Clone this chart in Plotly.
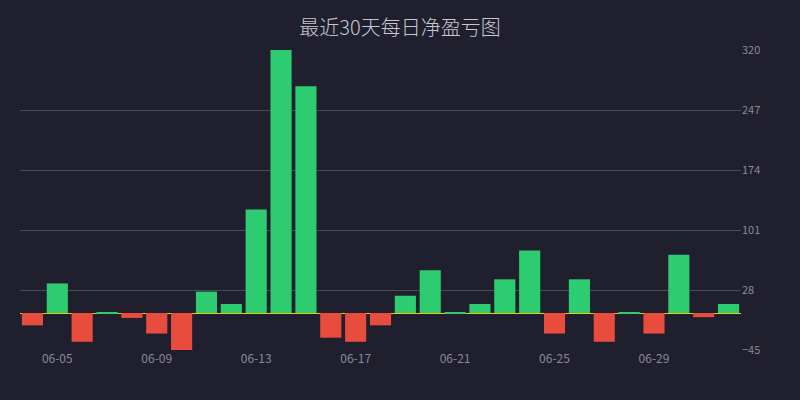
import plotly.graph_objects as go

# daily net profit/loss, last 30 days
dates = ['06-04', '06-05', '06-06', '06-07', '06-08', '06-09', '06-10', '06-11',
         '06-12', '06-13', '06-14', '06-15', '06-16', '06-17', '06-18', '06-19',
         '06-20', '06-21', '06-22', '06-23', '06-24', '06-25', '06-26', '06-27',
         '06-28', '06-29', '06-30', '07-01', '07-02']
pnl = [-15, 36, -35, 1, -6, -25, -45, 26,
       11, 126, 320, 276, -30, -35, -15, 21,
       52, 1, 11, 41, 76, -25, 41, -35,
       1, -25, 71, -5, 11]
y_ticks = [-45, 28, 101, 174, 247, 320]
x_ticks = ['06-05', '06-09', '06-13', '06-17', '06-21', '06-25', '06-29']

bar_colors = ['#2ecc71' if v >= 0 else '#e74c3c' for v in pnl]

fig = go.Figure()
fig.add_trace(go.Bar(
    x=dates,
    y=pnl,
    marker=dict(color=bar_colors, line=dict(width=0)),
    hovertemplate='%{x}<br>%{y}<extra></extra>'
))

fig.update_layout(
    width=800,
    height=400,
    paper_bgcolor='#1f1f2e',
    plot_bgcolor='#1f1f2e',
    margin=dict(l=20, r=59, t=50, b=50),
    bargap=0.15,
    showlegend=False,
    font=dict(family='Noto Sans CJK SC, Noto Sans, sans-serif', color='#8a8a99'),
    title=dict(
        text='最近30天每日净盈亏图',
        x=0.5,
        xanchor='center',
        y=0.93,
        yanchor='middle',
        font=dict(size=20, color='#c8c8d0', weight=300)
    )
)

fig.update_xaxes(
    type='category',
    tickvals=x_ticks,
    ticktext=x_ticks,
    showgrid=False,
    zeroline=False,
    showline=False,
    ticks='',
    tickfont=dict(size=12, color='#8a8a99')
)

fig.update_yaxes(
    side='right',
    range=[-45, 320],
    tickvals=y_ticks,
    showgrid=True,
    gridcolor='#4a4a58',
    gridwidth=1,
    zeroline=True,
    zerolinecolor='#f1c40f',
    zerolinewidth=1,
    showline=False,
    ticks='',
    tickfont=dict(size=11, color='#8a8a99')
)

# drop the browser's default page margin so the chart fills the window
fig.write_html(
    "out.html",
    config={'displayModeBar': False},
    post_script="document.body.style.margin='0';document.body.style.background='#1f1f2e';"
)
